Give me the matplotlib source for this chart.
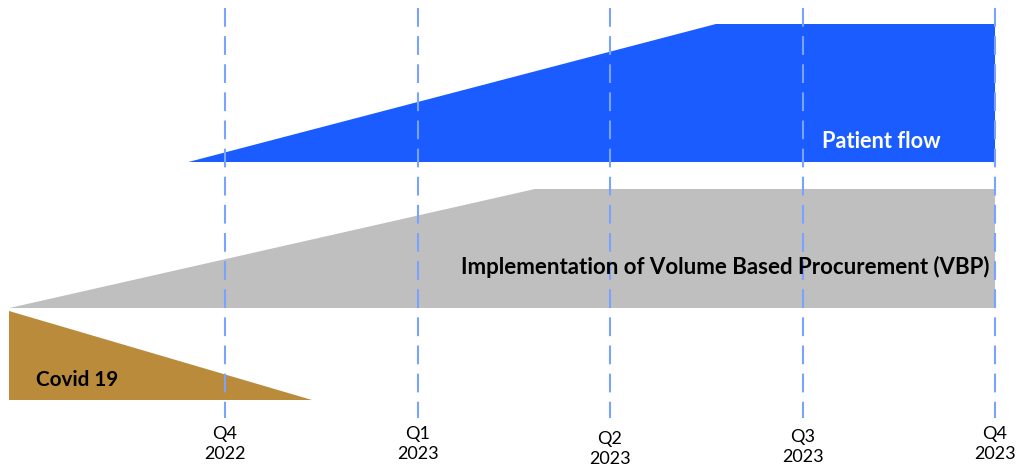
import matplotlib.pyplot as plt
from matplotlib.patches import Polygon

plt.rcParams['font.family'] = ['Lato', 'DejaVu Sans']

# timeline: quarter index 0 = Q4 2022
quarters = [0, 1, 2, 3, 4]
quarter_labels = ["Q4\n2022", "Q1\n2023", "Q2\n2023", "Q3\n2023", "Q4\n2023"]
label_drop = [0, 0, 5, 3, 0]

# band outlines (x in quarters, y in layout units, 0 = top)
patient_x = [-0.19, 2.55, 4.0, 4.0]
patient_y = [162, 24, 24, 162]
vbp_x = [-1.12, 1.61, 4.0, 4.0]
vbp_y = [308, 189, 189, 308]
covid_x = [-1.12, -1.12, 0.45]
covid_y = [311, 400, 400]

fig = plt.figure(figsize=(10.21, 4.70), dpi=100)
ax = fig.add_axes([0, 0, 1, 1])
ax.set_xlim(-1.169, 4.135)
ax.set_ylim(470, 0)
ax.axis('off')

ax.add_patch(Polygon(list(zip(patient_x, patient_y)), closed=True,
                     facecolor='#1A5CFF', edgecolor='none', zorder=1))
ax.add_patch(Polygon(list(zip(vbp_x, vbp_y)), closed=True,
                     facecolor='#BFBFBF', edgecolor='none', zorder=1))
ax.add_patch(Polygon(list(zip(covid_x, covid_y)), closed=True,
                     facecolor='#B98B3B', edgecolor='none', zorder=1))

for q, lab, dy in zip(quarters, quarter_labels, label_drop):
    ax.plot([q, q], [8, 418], color='#7AA3FF', lw=1.5,
            dashes=(9, 4.5), zorder=3)
    ax.text(q, 444 + dy, lab, ha='center', va='center', fontsize=13,
            linespacing=1.3, color='black')

ax.text(3.41, 142, "Patient flow", ha='center', va='center',
        fontsize=15.7, fontweight='bold', color='white', zorder=4)
ax.text(2.6, 267, "Implementation of Volume Based Procurement (VBP)",
        ha='center', va='center', fontsize=16, fontweight='bold',
        color='black', zorder=4)
ax.text(-0.98, 380, "Covid 19", ha='left', va='center', fontsize=14.9,
        fontweight='bold', color='black', zorder=4)

fig.savefig("out.png", dpi=100)
